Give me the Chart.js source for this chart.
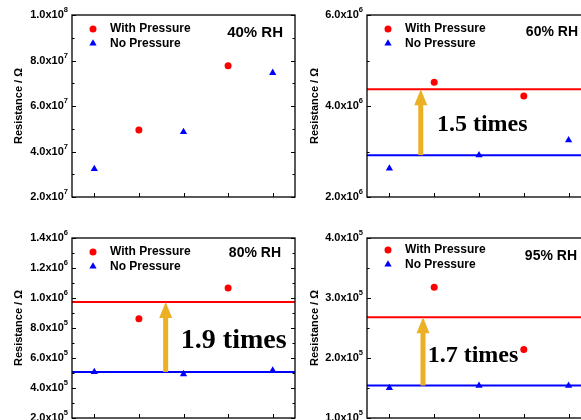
<!DOCTYPE html>
<html>
<head>
<meta charset="utf-8">
<script src="https://cdn.jsdelivr.net/npm/chart.js@4.4.0/dist/chart.umd.min.js"></script>
<style>
  html, body { margin: 0; padding: 0; background: #fff; width: 581px; height: 420px; overflow: hidden; position: relative; }
  canvas { position: absolute; }
</style>
</head>
<body>
<canvas id="p0"></canvas>
<canvas id="p1"></canvas>
<canvas id="p2"></canvas>
<canvas id="p3"></canvas>
<script>
// positions along x (no labels on the axis)
const withX = [2, 4];
const noX = [1, 3, 5];

const rhLabels = ['40% RH', '60% RH', '80% RH', '95% RH'];
const seriesNames = ['With Pressure', 'No Pressure'];

const with40 = [4.94e7, 7.77e7];
const no40 = [3.23e7, 4.86e7, 7.46e7];
const with60 = [4.52e6, 4.22e6];
const no60 = [2.63e6, 2.92e6, 3.25e6];
const with80 = [8.62e5, 1.067e6];
const no80 = [5.07e5, 4.93e5, 5.17e5];
const with95 = [3.18e5, 2.14e5];
const no95 = [1.50e5, 1.54e5, 1.54e5];

// average levels (horizontal lines) and the ratio between them
const withLevel = [null, 4.37e6, 9.73e5, 2.68e5];
const noLevel = [null, 2.92e6, 5.07e5, 1.54e5];
const ratioText = [null, '1.5 times', '1.9 times', '1.7 times'];

const yMin = [2e7, 2e6, 2e5, 1e5];
const yMax = [1e8, 6e6, 1.4e6, 4e5];

const yTicks40 = [2e7, 4e7, 6e7, 8e7, 1e8];
const yLabels40 = ['2.0x10^7', '4.0x10^7', '6.0x10^7', '8.0x10^7', '1.0x10^8'];
const yTicks60 = [2e6, 4e6, 6e6];
const yLabels60 = ['2.0x10^6', '4.0x10^6', '6.0x10^6'];
const yTicks80 = [2e5, 4e5, 6e5, 8e5, 1e6, 1.2e6, 1.4e6];
const yLabels80 = ['2.0x10^5', '4.0x10^5', '6.0x10^5', '8.0x10^5', '1.0x10^6', '1.2x10^6', '1.4x10^6'];
const yTicks95 = [1e5, 2e5, 3e5, 4e5];
const yLabels95 = ['1.0x10^5', '2.0x10^5', '3.0x10^5', '4.0x10^5'];

const withSets = [with40, with60, with80, with95];
const noSets = [no40, no60, no80, no95];
const tickSets = [yTicks40, yTicks60, yTicks80, yTicks95];
const labelSets = [yLabels40, yLabels60, yLabels80, yLabels95];

// layout of each panel on the page
const layout = [
  { left: 0,   top: 0,   w: 300, h: 210, axisW: 72, pad: { left: 0, top: 15, right: 5, bottom: 13 }, titlePad: 12, rhSize: 15, rhInset: 12, rhDy: 18, legDy: 14 },
  { left: 290, top: 0,   w: 310, h: 210, axisW: 77, pad: { left: 0, top: 15, right: 9, bottom: 13 }, titlePad: 18, rhSize: 14, rhInset: 13, rhDy: 17, legDy: 14,
    arrowX: 1.7, textX: 2.06, textY: 3.44e6, textSize: 24 },
  { left: 0,   top: 210, w: 300, h: 225, axisW: 72, pad: { left: 0, top: 28, right: 5, bottom: 17 }, titlePad: 12, rhSize: 14, rhInset: 14, rhDy: 15, legDy: 14,
    arrowX: 2.6, textX: 2.94, textY: 6.67e5, textSize: 28 },
  { left: 290, top: 210, w: 310, h: 225, axisW: 77, pad: { left: 0, top: 28, right: 9, bottom: 17 }, titlePad: 18, rhSize: 14, rhInset: 14, rhDy: 18, legDy: 12,
    arrowX: 1.75, textX: 1.855, textY: 1.93e5, textSize: 24 }
];

const SANS = '"Liberation Sans", Arial, sans-serif';
const SERIF = '"Liberation Serif", "Times New Roman", serif';
const RED = '#ff0000';
const BLUE = '#0000ff';
const GOLD = '#ebb024';

function drawTriangle(ctx, x, y, r) {
  ctx.beginPath();
  let rad = 0;
  ctx.moveTo(x + Math.sin(rad) * r, y - Math.cos(rad) * r);
  rad += Math.PI * 2 / 3;
  ctx.lineTo(x + Math.sin(rad) * r, y - Math.cos(rad) * r);
  rad += Math.PI * 2 / 3;
  ctx.lineTo(x + Math.sin(rad) * r, y - Math.cos(rad) * r);
  ctx.closePath();
  ctx.fill();
}

const panelDecor = {
  id: 'panelDecor',
  afterDraw(chart) {
    const i = chart.options.plugins.panelDecor.index;
    const L = layout[i];
    const ctx = chart.ctx;
    const a = chart.chartArea;
    const xs = chart.scales.x, ys = chart.scales.y;
    ctx.save();

    // arrow + ratio text
    if (withLevel[i] !== null) {
      const ax = xs.getPixelForValue(L.arrowX);
      const y0 = ys.getPixelForValue(noLevel[i]);
      const y1 = ys.getPixelForValue(withLevel[i]);
      const headLen = 16, headHalf = 6.5, shaft = 5;
      ctx.fillStyle = GOLD;
      ctx.fillRect(ax - shaft / 2, y1 + headLen - 1, shaft, y0 - y1 - headLen + 1);
      ctx.beginPath();
      ctx.moveTo(ax, y1);
      ctx.lineTo(ax - headHalf, y1 + headLen);
      ctx.lineTo(ax + headHalf, y1 + headLen);
      ctx.closePath();
      ctx.fill();

      ctx.fillStyle = '#000';
      ctx.font = 'bold ' + L.textSize + 'px ' + SERIF;
      ctx.textAlign = 'left';
      ctx.textBaseline = 'alphabetic';
      ctx.fillText(ratioText[i], xs.getPixelForValue(L.textX), ys.getPixelForValue(L.textY));
    }

    // frame
    ctx.strokeStyle = '#000';
    ctx.lineWidth = 1.3;
    ctx.strokeRect(a.left, a.top, a.right - a.left, a.bottom - a.top);

    // inward ticks
    ctx.lineWidth = 1;
    const ticks = tickSets[i];
    ctx.beginPath();
    ticks.forEach((v, k) => {
      const y = Math.round(ys.getPixelForValue(v)) + 0.5;
      ctx.moveTo(a.left, y); ctx.lineTo(a.left + 4, y);
      ctx.moveTo(a.right, y); ctx.lineTo(a.right - 4, y);
      if (k < ticks.length - 1) {
        const ym = Math.round(ys.getPixelForValue((v + ticks[k + 1]) / 2)) + 0.5;
        ctx.moveTo(a.left, ym); ctx.lineTo(a.left + 2.5, ym);
        ctx.moveTo(a.right, ym); ctx.lineTo(a.right - 2.5, ym);
      }
    });
    [1, 2, 3, 4, 5].forEach(v => {
      const x = Math.round(xs.getPixelForValue(v)) + 0.5;
      ctx.moveTo(x, a.bottom); ctx.lineTo(x, a.bottom - 4);
    });
    ctx.stroke();

    // tick labels with superscript exponents
    ctx.fillStyle = '#000';
    ctx.textBaseline = 'middle';
    ctx.textAlign = 'left';
    labelSets[i].forEach((lab, k) => {
      const [mant, exp] = lab.split('^');
      const y = ys.getPixelForValue(ticks[k]);
      ctx.font = 'bold 7.5px ' + SANS;
      const ew = ctx.measureText(exp).width;
      ctx.font = 'bold 11px ' + SANS;
      const mw = ctx.measureText(mant).width;
      const right = a.left - 4;
      ctx.fillText(mant, right - ew - mw, y);
      ctx.font = 'bold 7.5px ' + SANS;
      ctx.fillText(exp, right - ew, y - 5);
    });

    // legend
    const mx = a.left + 21;
    const ly = a.top + L.legDy;
    ctx.fillStyle = RED;
    ctx.beginPath(); ctx.arc(mx, ly, 3.5, 0, Math.PI * 2); ctx.fill();
    ctx.fillStyle = BLUE;
    drawTriangle(ctx, mx, ly + 14.5, 4.2);
    ctx.fillStyle = '#000';
    ctx.font = 'bold 12px ' + SANS;
    ctx.textBaseline = 'middle';
    ctx.fillText(seriesNames[0], mx + 17, ly);
    ctx.fillText(seriesNames[1], mx + 17, ly + 14.5);

    // RH label
    ctx.font = 'bold ' + L.rhSize + 'px ' + SANS;
    ctx.textAlign = 'right';
    ctx.fillText(rhLabels[i], a.right - L.rhInset, a.top + L.rhDy);

    ctx.restore();
  }
};

function makePanel(i) {
  const L = layout[i];
  const cv = document.getElementById('p' + i);
  cv.width = L.w; cv.height = L.h;
  cv.style.left = L.left + 'px'; cv.style.top = L.top + 'px';

  const datasets = [
    { label: seriesNames[0], data: withX.map((x, k) => ({ x, y: withSets[i][k] })),
      pointStyle: 'circle', pointRadius: 3.5, backgroundColor: RED, borderWidth: 0, showLine: false },
    { label: seriesNames[1], data: noX.map((x, k) => ({ x, y: noSets[i][k] })),
      pointStyle: 'triangle', pointRadius: 4.2, backgroundColor: BLUE, borderWidth: 0, showLine: false }
  ];
  if (withLevel[i] !== null) {
    datasets.push({ label: 'with level', data: [{ x: 0.5, y: withLevel[i] }, { x: 5.5, y: withLevel[i] }],
      showLine: true, borderColor: RED, borderWidth: 2, pointRadius: 0 });
    datasets.push({ label: 'no level', data: [{ x: 0.5, y: noLevel[i] }, { x: 5.5, y: noLevel[i] }],
      showLine: true, borderColor: BLUE, borderWidth: 2, pointRadius: 0 });
  }

  return new Chart(cv.getContext('2d'), {
    type: 'scatter',
    data: { datasets },
    options: {
      responsive: false,
      animation: false,
      devicePixelRatio: 1,
      layout: { padding: L.pad },
      plugins: { legend: { display: false }, tooltip: { enabled: false }, panelDecor: { index: i } },
      scales: {
        x: { type: 'linear', min: 0.5, max: 5.5, display: false },
        y: {
          type: 'linear', min: yMin[i], max: yMax[i],
          grid: { display: false }, border: { display: false },
          ticks: { display: false },
          title: { display: true, text: 'Resistance / Ω', color: '#000',
                   font: { family: SANS, size: 11, weight: 'bold' }, padding: { top: L.titlePad, bottom: 0 } },
          afterFit: s => { s.width = L.axisW; }
        }
      }
    },
    plugins: [panelDecor]
  });
}

[0, 1, 2, 3].forEach(makePanel);
</script>
</body>
</html>
